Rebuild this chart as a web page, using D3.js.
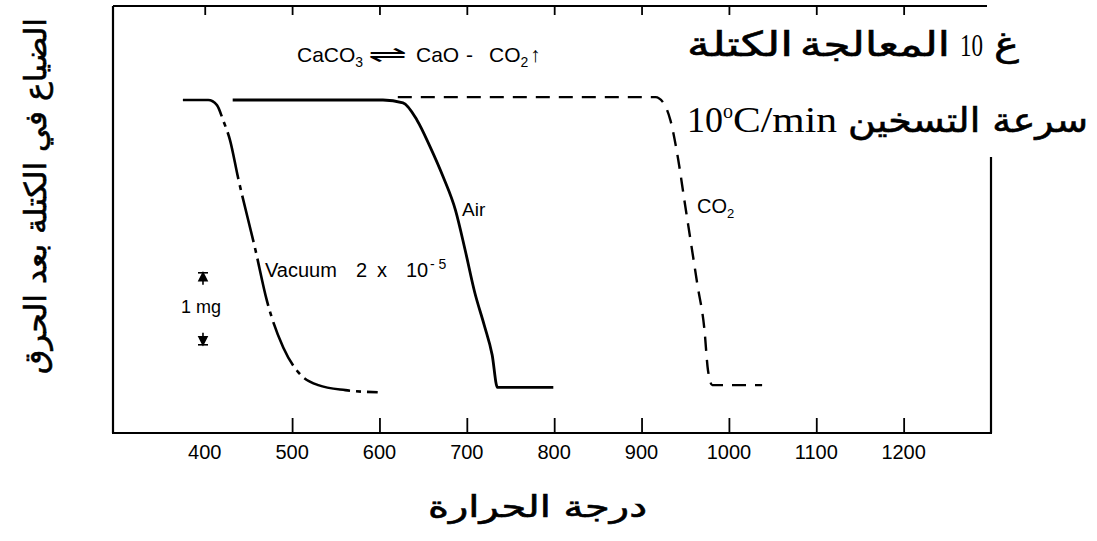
<!DOCTYPE html>
<html>
<head>
<meta charset="utf-8">
<script src="https://d3js.org/d3.v7.min.js"></script>
<style>
  body { margin: 0; background: #fff; }
  svg { display: block; }
</style>
</head>
<body>
<svg id="chart" width="1097" height="541"></svg>
<script>
// tick labels on the temperature axis
const tickTemps = [400, 500, 600, 700, 800, 900, 1000, 1100, 1200];
const topTicks = [400, 500, 600, 700, 800, 900, 1000, 1100, 1200];
const bottomTicks = [500, 600, 700, 800, 900, 1000, 1100, 1200];

// mass loss curves (temperature in C, loss in mg)
const vacuumT    = [375, 404, 414, 421, 429, 438, 458, 471, 490, 507, 530, 561, 598];
const vacuumLoss = [0, 0, 0.07, 0.28, 0.56, 1.07, 2.08, 2.78, 3.44, 3.78, 3.96, 4.03, 4.06];
const airT       = [432, 604, 627, 643, 658, 673, 687, 698, 709, 720, 729, 735, 799];
const airLoss    = [0, 0, 0.04, 0.28, 0.65, 1.07, 1.53, 2.08, 2.67, 3.13, 3.54, 3.99, 3.99];
const co2T       = [621, 916, 925, 933, 942, 949, 956, 964, 972, 976, 981, 1038];
const co2Loss    = [-0.04, -0.04, 0.04, 0.28, 0.83, 1.39, 1.94, 2.57, 3.19, 3.75, 3.96, 3.96];

// 1 mg scale bar
const barTemp = 398;
const barFrom = 2.4, barTo = 3.4;

const svg = d3.select("svg#chart");
const plot = { left: 113, right: 991, top: 6, bottom: 433 };

const x = d3.scaleLinear().domain([295, 1300]).range([plot.left, plot.right]);
const y = d3.scaleLinear().domain([0, 1]).range([100, 172]);

const line = d3.line()
    .x(d => x(d[0]))
    .y(d => y(d[1]))
    .curve(d3.curveMonotoneX);

const series = [
  { t: vacuumT, v: vacuumLoss, dash: "48,6,5,6", w: 2.6 },
  { t: airT, v: airLoss, dash: null, w: 2.8 },
  { t: co2T, v: co2Loss, dash: "14,9", w: 2.4 }
];

series.forEach(s => {
  svg.append("path")
     .datum(d3.zip(s.t, s.v))
     .attr("d", line)
     .attr("fill", "none")
     .attr("stroke", "#000")
     .attr("stroke-width", s.w)
     .attr("stroke-dasharray", s.dash);
});

// frame
const frame = svg.append("g").attr("stroke", "#000").attr("stroke-width", 2.2);
frame.append("line").attr("x1", plot.left).attr("x2", plot.left).attr("y1", plot.top).attr("y2", plot.bottom);
frame.append("line").attr("x1", plot.left - 1).attr("x2", plot.right + 1).attr("y1", plot.bottom).attr("y2", plot.bottom);
frame.append("line").attr("x1", plot.left).attr("x2", plot.right - 4).attr("y1", plot.top).attr("y2", plot.top);
frame.append("line").attr("x1", plot.right).attr("x2", plot.right).attr("y1", 157).attr("y2", plot.bottom);

// ticks
const bottomAxis = d3.axisBottom(x).tickValues(bottomTicks).tickSize(-15).tickFormat("");
svg.append("g").attr("transform", "translate(0," + plot.bottom + ")").call(bottomAxis)
   .call(g => g.select(".domain").remove())
   .selectAll("line").attr("stroke-width", 1.8);

const topAxis = d3.axisTop(x).tickValues(topTicks).tickSize(-9).tickFormat("");
svg.append("g").attr("transform", "translate(0," + plot.top + ")").call(topAxis)
   .call(g => g.select(".domain").remove())
   .selectAll("line").attr("stroke-width", 1.8);

svg.append("g").selectAll("text").data(tickTemps).join("text")
   .attr("x", d => x(d))
   .attr("y", 459)
   .attr("text-anchor", "middle")
   .style("font-family", "Liberation Sans, Arial, sans-serif")
   .style("font-size", "20px")
   .text(d => d);

// curve labels
const lab = svg.append("g")
   .style("font-family", "Liberation Sans, Arial, sans-serif")
   .attr("fill", "#000");

const vac = lab.append("text").attr("y", 277).style("font-size", "20px");
vac.append("tspan").attr("x", 265).text("Vacuum");
vac.append("tspan").attr("x", 356).text("2");
vac.append("tspan").attr("x", 377).text("x");
vac.append("tspan").attr("x", 406).text("10");
vac.append("tspan").attr("x", 430).attr("dy", -8).style("font-size", "14px").text("- 5");

lab.append("text").attr("x", 462).attr("y", 216).style("font-size", "19px").text("Air");

const co2 = lab.append("text").attr("x", 697).attr("y", 213).style("font-size", "20px");
co2.append("tspan").text("CO");
co2.append("tspan").attr("dy", 5).style("font-size", "13px").text("2");

const eq = lab.append("text").attr("y", 62).style("font-size", "21px");
eq.append("tspan").attr("x", 297).text("CaCO");
eq.append("tspan").attr("dy", 5).style("font-size", "14px").text("3");
eq.append("tspan").attr("x", 368).attr("dy", -5).attr("textLength", 40).attr("lengthAdjust", "spacingAndGlyphs").text("\u21CC");
eq.append("tspan").attr("x", 416).text("CaO");
eq.append("tspan").attr("x", 466).text("-");
eq.append("tspan").attr("x", 489).text("CO");
eq.append("tspan").attr("dy", 5).style("font-size", "14px").text("2");
eq.append("tspan").attr("x", 530).attr("dy", -5).text("\u2191");

// 1 mg scale bar
const bx = x(barTemp);
const bar = svg.append("g").attr("stroke", "#000").attr("stroke-width", 1.6);
bar.append("line").attr("x1", bx - 5).attr("x2", bx + 5).attr("y1", y(barFrom)).attr("y2", y(barFrom));
bar.append("line").attr("x1", bx).attr("x2", bx).attr("y1", y(barFrom)).attr("y2", y(barFrom) + 12);
bar.append("path").attr("d", `M${bx},${y(barFrom)}l-4,8h8z`).attr("fill", "#000");
bar.append("line").attr("x1", bx - 5).attr("x2", bx + 5).attr("y1", y(barTo)).attr("y2", y(barTo));
bar.append("line").attr("x1", bx).attr("x2", bx).attr("y1", y(barTo)).attr("y2", y(barTo) - 12);
bar.append("path").attr("d", `M${bx},${y(barTo)}l-4,-8h8z`).attr("fill", "#000");
lab.append("text").attr("x", 181).attr("y", 313).style("font-size", "18px").text("1  mg");

// Arabic titles
const ar = svg.append("g")
   .style("font-family", "DejaVu Sans, sans-serif")
   .attr("fill", "#000")
   .attr("stroke", "#000")
   .attr("stroke-width", 0.6);

// first line: treated mass 10 g
ar.append("text").attr("x", 687).attr("y", 56).style("font-size", "34px")
  .attr("textLength", 106).attr("lengthAdjust", "spacingAndGlyphs").text("الكتلة");
ar.append("text").attr("x", 800).attr("y", 56).style("font-size", "34px")
  .attr("textLength", 150).attr("lengthAdjust", "spacingAndGlyphs").text("المعالجة");
ar.append("text").attr("x", 960).attr("y", 56).style("font-size", "32px")
  .attr("stroke-width", 0)
  .style("font-family", "Liberation Serif, serif")
  .attr("textLength", 23).attr("lengthAdjust", "spacingAndGlyphs").text("10");
ar.append("text").attr("x", 994).attr("y", 56).style("font-size", "34px")
  .attr("textLength", 25).attr("lengthAdjust", "spacingAndGlyphs").text("غ");

// second line: heating rate
const rate = ar.append("text").attr("x", 687).attr("y", 132)
  .attr("stroke-width", 0)
  .style("font-family", "Liberation Serif, serif")
  .style("font-size", "36px");
rate.append("tspan").text("10");
rate.append("tspan").attr("dy", -14).style("font-size", "20px").text("o");
rate.append("tspan").attr("dy", 14).attr("textLength", 104).attr("lengthAdjust", "spacingAndGlyphs").text("C/min");
ar.append("text").attr("x", 848).attr("y", 132).style("font-size", "34px")
  .attr("textLength", 240).attr("lengthAdjust", "spacingAndGlyphs").text("سرعة التسخين");

ar.append("text").attr("x", 428).attr("y", 517).style("font-size", "30px")
  .attr("textLength", 219).attr("lengthAdjust", "spacingAndGlyphs").text("درجة الحرارة");

ar.append("text").attr("transform", "translate(46,8) rotate(-90)")
  .attr("x", -366)
  .style("font-size", "30px")
  .attr("textLength", 356).attr("lengthAdjust", "spacingAndGlyphs")
  .text("الضياع في الكتلة بعد الحرق");
</script>
</body>
</html>
